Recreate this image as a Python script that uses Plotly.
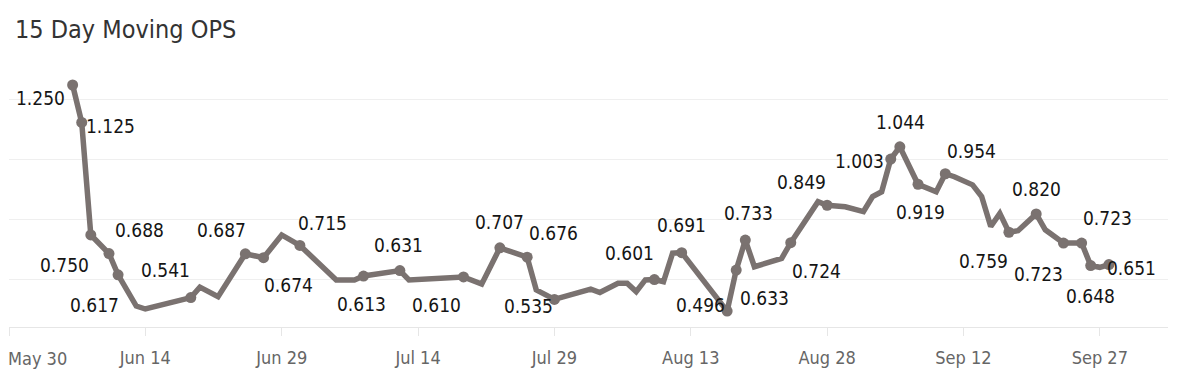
import plotly.graph_objects as go

# ---- data ----
dates = [
    "2023-06-06", "2023-06-07", "2023-06-08", "2023-06-10", "2023-06-11", "2023-06-13",
    "2023-06-14", "2023-06-19", "2023-06-20", "2023-06-22", "2023-06-25", "2023-06-27",
    "2023-06-29", "2023-07-01", "2023-07-05", "2023-07-07", "2023-07-08", "2023-07-12",
    "2023-07-13", "2023-07-19", "2023-07-21", "2023-07-23", "2023-07-26", "2023-07-27",
    "2023-07-29", "2023-08-02", "2023-08-03", "2023-08-05", "2023-08-06", "2023-08-07",
    "2023-08-08", "2023-08-09", "2023-08-10", "2023-08-11", "2023-08-12", "2023-08-17",
    "2023-08-18", "2023-08-19", "2023-08-20", "2023-08-23", "2023-08-24", "2023-08-27",
    "2023-08-28", "2023-08-30", "2023-09-01", "2023-09-02", "2023-09-03", "2023-09-04",
    "2023-09-05", "2023-09-07", "2023-09-09", "2023-09-10", "2023-09-11", "2023-09-13",
    "2023-09-14", "2023-09-15", "2023-09-16", "2023-09-17", "2023-09-18", "2023-09-20",
    "2023-09-21", "2023-09-23", "2023-09-25", "2023-09-26", "2023-09-27", "2023-09-28",
]
ops = [
    1.250, 1.125, 0.750, 0.688, 0.617, 0.513,
    0.503, 0.541, 0.576, 0.544, 0.687, 0.674,
    0.750, 0.715, 0.600, 0.600, 0.613, 0.631,
    0.600, 0.610, 0.586, 0.707, 0.676, 0.567,
    0.535, 0.569, 0.558, 0.589, 0.589, 0.561,
    0.600, 0.601, 0.594, 0.689, 0.691, 0.496,
    0.633, 0.733, 0.644, 0.672, 0.724, 0.861,
    0.849, 0.844, 0.828, 0.878, 0.894, 1.003,
    1.044, 0.919, 0.894, 0.954, 0.944, 0.917,
    0.878, 0.778, 0.822, 0.759, 0.764, 0.820,
    0.767, 0.723, 0.723, 0.648, 0.642, 0.651,
]
labeled = [
    1, 1, 1, 1, 1, 0,
    0, 1, 0, 0, 1, 1,
    0, 1, 0, 0, 1, 1,
    0, 1, 0, 1, 1, 0,
    1, 0, 0, 0, 0, 0,
    0, 1, 0, 0, 1, 1,
    1, 1, 0, 0, 1, 0,
    1, 0, 0, 0, 0, 1,
    1, 1, 0, 1, 0, 0,
    0, 0, 0, 1, 0, 1,
    0, 1, 1, 1, 0, 1,
]
tick_dates = ["2023-05-30", "2023-06-14", "2023-06-29", "2023-07-14", "2023-07-29",
              "2023-08-13", "2023-08-28", "2023-09-12", "2023-09-27"]
tick_labels = ["May 30", "Jun 14", "Jun 29", "Jul 14", "Jul 29",
               "Aug 13", "Aug 28", "Sep 12", "Sep 27"]
grid_values = [0.6, 0.8, 1.0, 1.2]
title_text = "15 Day Moving OPS"

# ---- styles: label offsets in px (dx right, dy up), in order of labelled points ----
label_offsets = [
    (-32, -13), (29, -4), (-26, -30), (31, 24), (-24, -30),
    (-25, 28), (-24, 24), (25, -27), (23, 22), (-2, -28),
    (-1, 26), (-27, -28), (0, 26), (26, 24), (-26, -7),
    (-25, 27), (0, 28), (-27, 6), (28, -28), (3, 27),
    (26, -28), (-26, 23), (-31, -2), (1, 25), (2, -28),
    (26, 23), (-25, -29), (0, 25), (-25, -31), (26, 25),
    (0, -30), (23, -3),
]
FONT = "DejaVu Sans Condensed, Liberation Sans Narrow, Roboto, sans-serif"
LINE_COLOR = "#7a7270"
W, H = 1160, 374   # page body has an 8px margin

lab_x = [d for d, f in zip(dates, labeled) if f]
lab_y = [v for v, f in zip(ops, labeled) if f]

fig = go.Figure()
fig.add_trace(go.Scatter(
    x=dates, y=ops, mode="lines",
    line=dict(color=LINE_COLOR, width=5.5),
    hoverinfo="skip", showlegend=False,
))
fig.add_trace(go.Scatter(
    x=lab_x, y=lab_y, mode="markers",
    marker=dict(color=LINE_COLOR, size=11),
    showlegend=False,
))

annotations = []
for (x, y, (dx, dy)) in zip(lab_x, lab_y, label_offsets):
    annotations.append(dict(
        x=x, y=y, xref="x", yref="y", text=f"{y:.3f}", showarrow=False,
        xanchor="center", yanchor="middle", xshift=dx, yshift=dy,
        font=dict(family=FONT, size=19, color="#151515"),
    ))
# first tick label is pushed inside the chart edge (left-aligned)
annotations.append(dict(
    x=tick_dates[0], y=0, xref="x", yref="paper", text=tick_labels[0],
    showarrow=False, xanchor="left", yanchor="middle", xshift=-3, yshift=-31,
    font=dict(family=FONT, size=18, color="#666666"),
))

fig.update_layout(
    width=W, height=H,
    margin=dict(l=1, r=0, t=62, b=55),
    paper_bgcolor="white", plot_bgcolor="white",
    title=dict(text=title_text, x=7 / W, xanchor="left", xref="container",
               y=1 - 21 / H, yanchor="middle", yref="container",
               font=dict(family=FONT, size=25, color="#333333")),
    annotations=annotations,
    xaxis=dict(
        type="date", range=["2023-05-30", "2023-10-04 12:00"],
        tickvals=tick_dates, ticktext=[""] + tick_labels[1:],
        showgrid=False, zeroline=False, automargin=False,
        showline=True, linecolor="#e6e6e6", linewidth=1,
        ticks="outside", ticklen=8, tickcolor="#e6e6e6",
        ticklabelstandoff=6,
        tickfont=dict(family=FONT, size=18, color="#666666"),
    ),
    yaxis=dict(
        range=[0.443, 1.3], tickvals=grid_values, showticklabels=False,
        showgrid=True, gridcolor="#efefef", gridwidth=1, zeroline=False,
        showline=False, automargin=False,
    ),
)

fig.write_html("out.html")
